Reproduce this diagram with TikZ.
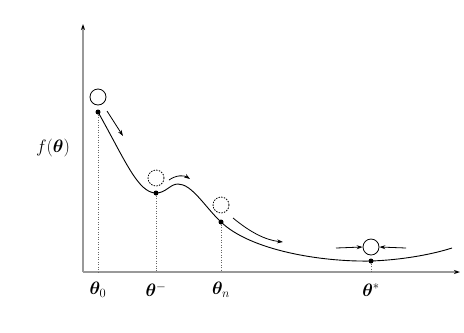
\RequirePackage{fix-cm}
\documentclass[tikz,border=0pt]{standalone}
\usepackage{amsmath,bm}
\usepackage{tikz}
\usetikzlibrary{arrows.meta,positioning,calc}

\begin{document}
\begin{tikzpicture}[x=1bp,y=-1bp,>={Stealth[length=6pt,width=4pt]},
 axis/.style={draw=black!40,line width=1.5bp},
 ball/.style={circle,draw,line width=0.8bp,minimum size=16bp,inner sep=0pt},
 ghost/.style={ball,dash pattern=on 1.5bp off 1.2bp},
 spot/.style={circle,fill,minimum size=5bp,inner sep=0pt},
 drop/.style={draw=black!60,dotted,line width=0.5bp},
 move/.style={->,line width=0.8bp},
 lbl/.style={font=\fontsize{18}{21}\selectfont}]
\useasboundingbox (0,0) rectangle (464,332);
\coordinate (origin) at (83,272);
\coordinate (ytop) at (83,24);
\coordinate (xend) at (460,272);
\node[spot] (p0) at (98,112) {};
\node[spot] (pm) at (156,193) {};
\node[spot] (pn) at (221,222) {};
\node[spot] (ps) at (371,261) {};
\node[ball] (b0) at (98,97) {};
\node[ghost] (bm) at (156,178) {};
\node[ghost] (bn) at (221,205) {};
\node[ball] (bs) at (371,247) {};
\node[lbl] (fx) at (53,148) {$f(\bm{\theta})$};
\node[lbl] (t0) at (98,290) {$\bm{\theta}_0$};
\node[lbl] (tm) at (156,290) {$\bm{\theta}^{-}$};
\node[lbl] (tn) at (221,290) {$\bm{\theta}_n$};
\node[lbl] (ts) at (371,290) {$\bm{\theta}^{*}$};
\draw[axis,-{Stealth[black,length=6pt,width=4pt]}] (origin) -- (ytop);
\draw[axis,-{Stealth[black,length=6pt,width=4pt]}] (origin) -- (xend);
\foreach \p in {p0,pm,pn,ps} \draw[drop] (\p) -- (\p |- origin);
\draw[line width=0.9bp] (p0.center) .. controls (125,160) and (138,193) .. (pm.center)
 .. controls (166,193) and (170,184) .. (178,184)
 .. controls (192,184) and (205,207) .. (pn.center)
 .. controls (250,250) and (320,262) .. (ps.center)
 .. controls (400,260) and (430,255) .. (452,248);
\coordinate (a1) at (107,111); \coordinate (a2) at (123,136);
\coordinate (c1) at (169,180); \coordinate (c2) at (190,179);
\coordinate (d1) at (233,218); \coordinate (d2) at (283,242);
\coordinate (e1) at (336,248); \coordinate (e2) at (406,248);
\draw[move] (a1) -- (a2);
\draw[move] (c1) .. controls (176,175) and (184,175) .. (c2);
\draw[move] (d1) .. controls (250,232) and (265,240) .. (d2);
\draw[move] (e1) -- (bs.west);
\draw[move] (e2) -- (bs.east);
\end{tikzpicture}
\end{document}
